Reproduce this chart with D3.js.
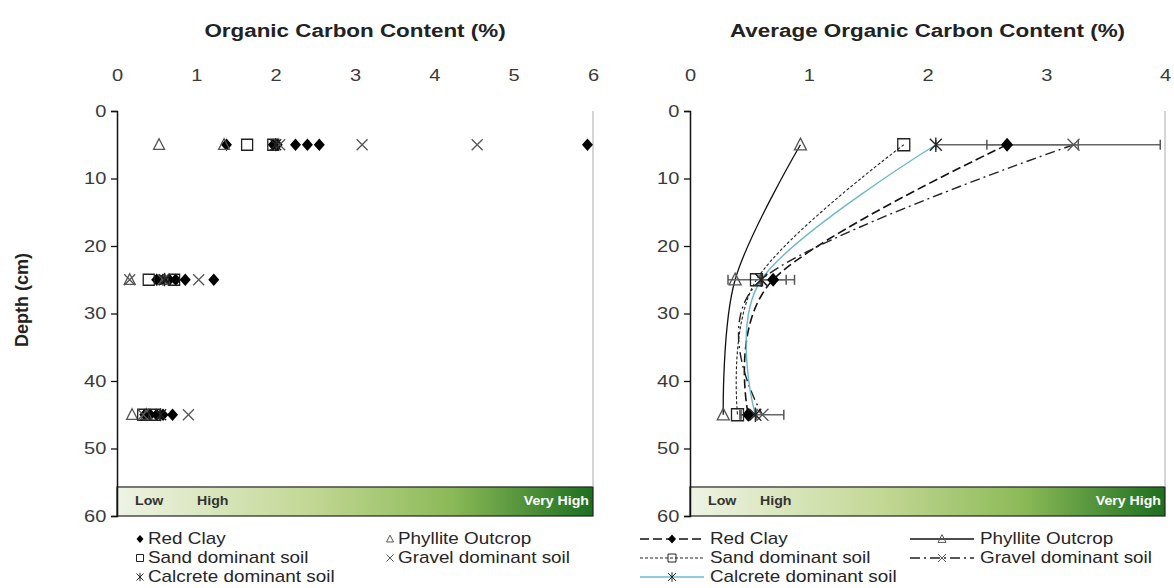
<!DOCTYPE html>
<html>
<head>
<meta charset="utf-8">
<script src="https://cdn.jsdelivr.net/npm/d3@7"></script>
<style>
  body { margin: 0; background: #fff; }
  text { font-family: "Liberation Sans", Arial, sans-serif; fill: #262626; }
</style>
</head>
<body>
<script>
'use strict';

// depths sampled (cm)
var depths = [5, 25, 45];
var depthTicks = [0, 10, 20, 30, 40, 50, 60];
var leftTicks = [0, 1, 2, 3, 4, 5, 6];
var rightTicks = [0, 1, 2, 3, 4];

// individual samples, one array per depth
var redClay = [[1.38, 1.97, 2.02, 2.25, 2.4, 2.55, 5.93], [0.5, 0.58, 0.66, 0.74, 0.86, 1.22], [0.35, 0.42, 0.5, 0.58, 0.7]];
var phyllite = [[0.53, 1.35], [0.16, 0.6], [0.19, 0.37]];
var sand = [[1.64, 1.97], [0.4, 0.72], [0.33, 0.47]];
var gravel = [[2.05, 3.09, 4.54], [0.16, 0.58, 1.03], [0.33, 0.9]];
var calcrete = [[2.0], [0.6], [0.55]];

// averages (right chart)
var avgRedClay = [2.67, 0.70, 0.49];
var errRedClay = [0.6, 0.11, 0.07];
var avgSand = [1.8, 0.56, 0.40];
var avgCalcrete = [2.07, 0.60, 0.55];
var avgPhyllite = [0.93, 0.38, 0.28];
var avgGravel = [3.23, 0.60, 0.61];
var errGravel = [0.73, 0.28, 0.18];

var K = 1.18; // the original export is stretched sideways

var svg = d3.select('body').append('svg').attr('width', 1174).attr('height', 588);

var y = d3.scaleLinear().domain([0, 60]).range([111, 516]);
var xL = d3.scaleLinear().domain([0, 6]).range([117, 593]);
var xR = d3.scaleLinear().domain([0, 4]).range([690, 1165]);

var stext = function (g, x, yy, str, size, anchor, weight, fill) {
  return g.append('text')
    .attr('transform', 'translate(' + x + ',' + yy + ') scale(' + K + ',1)')
    .attr('text-anchor', anchor || 'start')
    .style('font-size', size + 'px')
    .style('font-weight', weight || 'normal')
    .style('fill', fill || '#262626')
    .text(str);
};

var markerPath = function (type, s) {
  if (type === 'diamond') return 'M0,' + (-s * 1.15) + 'L' + s + ',0L0,' + (s * 1.15) + 'L' + (-s) + ',0Z';
  if (type === 'triangle') return 'M0,' + (-s * 1.1) + 'L' + s + ',' + (s * 0.85) + 'L' + (-s) + ',' + (s * 0.85) + 'Z';
  if (type === 'square') return 'M' + (-s) + ',' + (-s) + 'h' + (2 * s) + 'v' + (2 * s) + 'h' + (-2 * s) + 'Z';
  if (type === 'times') return 'M' + (-s) + ',' + (-s) + 'L' + s + ',' + s + 'M' + (-s) + ',' + s + 'L' + s + ',' + (-s);
  // asterisk
  return 'M' + (-s) + ',' + (-s) + 'L' + s + ',' + s + 'M' + (-s) + ',' + s + 'L' + s + ',' + (-s) + 'M0,' + (-s * 1.2) + 'V' + (s * 1.2);
};

var series = [
  { name: 'Red Clay', type: 'diamond', pts: redClay, avg: avgRedClay, err: errRedClay, color: '#111', dash: '9,4', width: 1.6 },
  { name: 'Phyllite Outcrop', type: 'triangle', pts: phyllite, avg: avgPhyllite, color: '#111', dash: null, width: 1.3 },
  { name: 'Sand dominant soil', type: 'square', pts: sand, avg: avgSand, color: '#222', dash: '3,2', width: 1.1 },
  { name: 'Gravel dominant soil', type: 'times', pts: gravel, avg: avgGravel, err: errGravel, color: '#222', dash: '10,4,2,4', width: 1.4 },
  { name: 'Calcrete dominant soil', type: 'asterisk', pts: calcrete, avg: avgCalcrete, color: '#6bb8cf', dash: null, width: 1.4 }
];

var drawMarker = function (g, type, x, yy, s) {
  var p = g.append('path').attr('d', markerPath(type, s)).attr('transform', 'translate(' + x + ',' + yy + ')');
  if (type === 'diamond') p.attr('fill', '#000').attr('stroke', 'none');
  else p.attr('fill', 'none')
    .attr('stroke', type === 'times' || type === 'triangle' ? '#555' : '#222')
    .attr('stroke-width', 1.3);
  return p;
};

var drawFrame = function (x, title, ticks, highAt) {
  var g = svg.append('g');
  var x0 = x.range()[0], x1 = x.range()[1];

  // colour band
  var gid = 'band' + Math.round(x0);
  var grad = svg.append('defs').append('linearGradient').attr('id', gid);
  grad.append('stop').attr('offset', '0%').attr('stop-color', '#eef3e4');
  grad.append('stop').attr('offset', '40%').attr('stop-color', '#c3d895');
  grad.append('stop').attr('offset', '70%').attr('stop-color', '#8cba58');
  grad.append('stop').attr('offset', '100%').attr('stop-color', '#1d6f1f');
  g.append('rect').attr('x', x0).attr('y', y(55.7)).attr('width', x1 - x0).attr('height', y(60) - y(55.7))
    .attr('fill', 'url(#' + gid + ')').attr('stroke', '#222').attr('stroke-width', 1.2);
  stext(g, x0 + 18, y(58.3), 'Low', 12, 'start', 'bold', '#333');
  stext(g, x0 + highAt, y(58.3), 'High', 12, 'start', 'bold', '#333');
  stext(g, x1 - 4, y(58.3), 'Very High', 12, 'end', 'bold', '#fff');

  // right border
  g.append('line').attr('x1', x1).attr('x2', x1).attr('y1', y(0)).attr('y2', y(55.7))
    .attr('stroke', '#aaa').attr('stroke-width', 1);

  // depth axis
  var ya = g.append('g').attr('transform', 'translate(' + x0 + ',0)')
    .call(d3.axisLeft(y).tickValues(depthTicks).tickSize(6).tickPadding(3).tickFormat(d3.format('d')));
  ya.select('.domain').attr('stroke', '#111').attr('stroke-width', 1.5);
  ya.selectAll('.tick line').attr('stroke', '#111').attr('stroke-width', 1.3);
  ya.selectAll('.tick text').style('font-size', '17px').style('fill', '#3a3a3a')
    .attr('transform', 'scale(' + K + ',1)');

  // value axis on top
  var xa = g.append('g').attr('transform', 'translate(0,' + y(0) + ')')
    .call(d3.axisTop(x).tickValues(ticks).tickSize(0).tickPadding(30).tickFormat(d3.format('d')));
  xa.select('.domain').remove();
  xa.selectAll('.tick text').style('font-size', '17px').style('fill', '#3a3a3a')
    .attr('transform', 'scale(' + K + ',1)');
  ya.attr('font-family', null);
  xa.attr('font-family', null);

  stext(g, (x0 + x1) / 2, 37, title, 19, 'middle', 'bold', '#222');
  return g;
};

// ---- left chart: all samples
var gl = drawFrame(xL, 'Organic Carbon Content (%)', leftTicks, 80);
series.forEach(function (s) {
  s.pts.forEach(function (vals, i) {
    vals.forEach(function (v) {
      drawMarker(gl, s.type, xL(v), y(depths[i]), 5.5);
    });
  });
});

// ---- right chart: averages
var gr = drawFrame(xR, 'Average Organic Carbon Content (%)', rightTicks, 70);
var line = d3.line().x(function (d) { return xR(d[0]); }).y(function (d) { return y(d[1]); })
  .curve(d3.curveCardinal.tension(0));

series.forEach(function (s) {
  var data = s.avg.map(function (v, i) { return [v, depths[i]]; });
  gr.append('path').datum(data).attr('d', line).attr('fill', 'none')
    .attr('stroke', s.color).attr('stroke-width', s.width)
    .attr('stroke-dasharray', s.dash);
});
series.forEach(function (s) {
  if (!s.err) return;
  s.avg.forEach(function (v, i) {
    var yy = y(depths[i]);
    var a = xR(v - s.err[i]), b = xR(v + s.err[i]);
    gr.append('line').attr('x1', a).attr('x2', b).attr('y1', yy).attr('y2', yy).attr('stroke', '#666').attr('stroke-width', 1.5);
    [a, b].forEach(function (e) {
      gr.append('line').attr('x1', e).attr('x2', e).attr('y1', yy - 5).attr('y2', yy + 5).attr('stroke', '#555').attr('stroke-width', 1.5);
    });
  });
});
series.forEach(function (s) {
  s.avg.forEach(function (v, i) {
    drawMarker(gr, s.type, xR(v), y(depths[i]), 6);
  });
});

// ---- legends
var rows = [544, 563, 582];
var legL = svg.append('g');
var legPos = [[140, rows[0]], [390, rows[0]], [140, rows[1]], [390, rows[1]], [140, rows[2]]];
series.forEach(function (s, i) {
  var p = legPos[i];
  drawMarker(legL, s.type, p[0], p[1] - 5, 3.5).attr('stroke-width', 1);
  stext(legL, p[0] + 8, p[1], s.name, 16);
});

var legR = svg.append('g');
var legRPos = [[640, rows[0]], [910, rows[0]], [640, rows[1]], [910, rows[1]], [640, rows[2]]];
series.forEach(function (s, i) {
  var p = legRPos[i];
  legR.append('line').attr('x1', p[0]).attr('x2', p[0] + 64).attr('y1', p[1] - 5).attr('y2', p[1] - 5)
    .attr('stroke', s.color).attr('stroke-width', s.width).attr('stroke-dasharray', s.dash);
  drawMarker(legR, s.type, p[0] + 32, p[1] - 5, 4).attr('stroke-width', 1);
  stext(legR, p[0] + 70, p[1], s.name, 16);
});

// axis title
svg.append('text').attr('transform', 'translate(28,300) rotate(-90)').attr('text-anchor', 'middle')
  .style('font-size', '18px').style('font-weight', 'bold').style('fill', '#222').text('Depth (cm)');
</script>
</body>
</html>
